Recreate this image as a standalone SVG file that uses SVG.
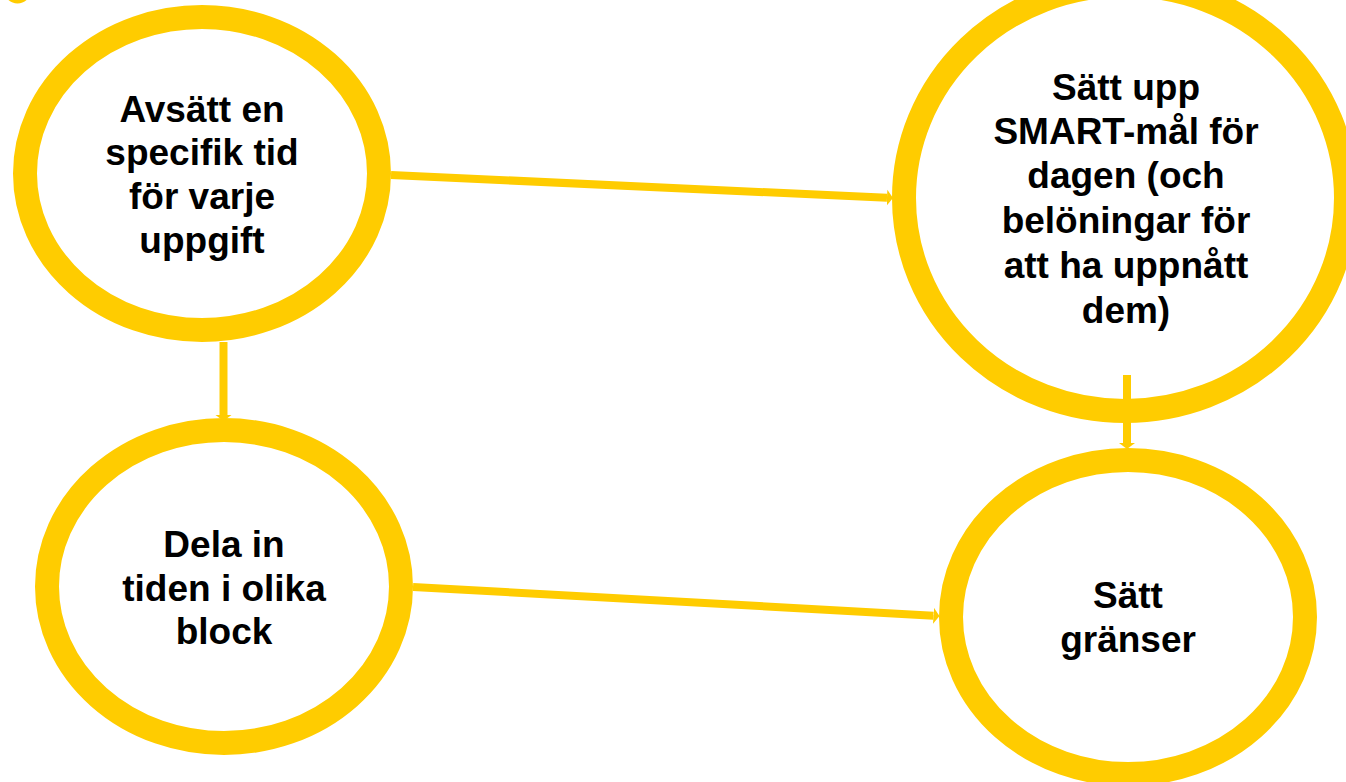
<svg xmlns="http://www.w3.org/2000/svg" width="1346" height="782" viewBox="0 0 1346 782">
  <style>
    .ring { fill: #ffffff; stroke: #ffcc00; stroke-width: 24; }
    .label { font-family: "Liberation Sans", Arial, sans-serif; font-weight: bold; font-size: 37px; fill: #000000; text-anchor: middle; }
    .link { stroke: #ffcc00; stroke-width: 8; fill: none; marker-end: url(#head); }
  </style>
  <defs>
    <marker id="head" markerUnits="userSpaceOnUse" markerWidth="6" markerHeight="18" viewBox="0 0 6 18" refX="0" refY="9" orient="auto">
      <path d="M0,1 L6,9 L0,17 Z" fill="#ffcc00"/>
    </marker>
  </defs>

  <rect width="1346" height="782" fill="#ffffff"/>

  <!-- partly visible shape at the top-left edge -->
  <circle cx="17.5" cy="-10" r="13.5" fill="#ffcc00"/>

  <g id="node-avsatt">
    <ellipse class="ring" cx="202" cy="173.5" rx="177" ry="156.5"/>
    <text class="label" x="202" y="122">Avsätt en</text>
    <text class="label" x="202" y="165">specifik tid</text>
    <text class="label" x="202" y="209">för varje</text>
    <text class="label" x="202" y="253">uppgift</text>
  </g>

  <g id="node-smart">
    <ellipse class="ring" cx="1125" cy="198" rx="221" ry="213"/>
    <text class="label" x="1126" y="100">Sätt upp</text>
    <text class="label" x="1126" y="144">SMART-mål för</text>
    <text class="label" x="1126" y="188">dagen (och</text>
    <text class="label" x="1126" y="233">belöningar för</text>
    <text class="label" x="1126" y="278">att ha uppnått</text>
    <text class="label" x="1126" y="323">dem)</text>
  </g>

  <g id="node-dela">
    <ellipse class="ring" cx="224" cy="586.5" rx="177" ry="156.5"/>
    <text class="label" x="224" y="557">Dela in</text>
    <text class="label" x="224" y="601">tiden i olika</text>
    <text class="label" x="224" y="644">block</text>
  </g>

  <g id="node-granser">
    <ellipse class="ring" cx="1128" cy="617" rx="177" ry="157"/>
    <text class="label" x="1128" y="608">Sätt</text>
    <text class="label" x="1128" y="652">gränser</text>
  </g>

  <g id="connectors">
    <line class="link" x1="391" y1="175" x2="887" y2="197.8"/>
    <line class="link" x1="223.5" y1="342" x2="223.5" y2="415"/>
    <line class="link" x1="1127" y1="375" x2="1127" y2="443"/>
    <line class="link" x1="413" y1="587" x2="933.5" y2="615.7"/>
  </g>
</svg>
